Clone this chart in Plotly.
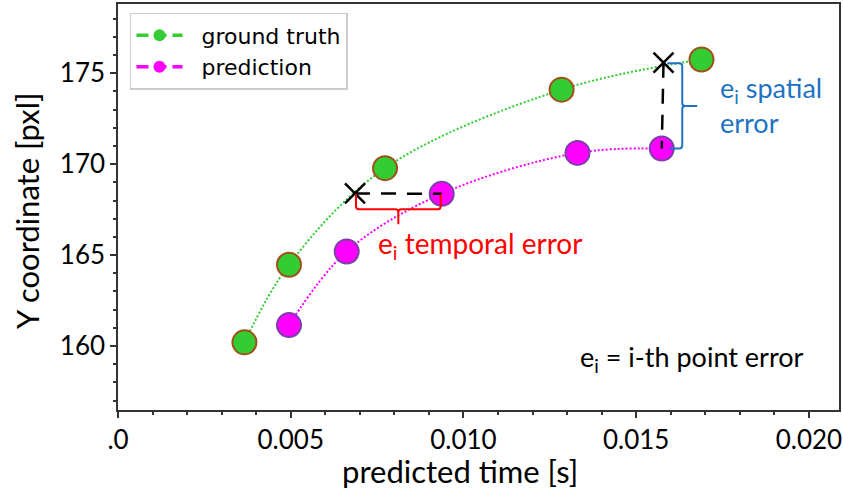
import plotly.graph_objects as go

# Measured trajectory samples: ground truth vs. prediction
gt_time = [0.00366, 0.00495, 0.00773, 0.01284, 0.01689]
gt_y = [160.2, 164.47, 169.78, 174.1, 175.76]

pred_time = [0.00495, 0.00662, 0.00937, 0.0133, 0.01574]
pred_y = [161.15, 165.2, 168.37, 170.62, 170.86]

# Points on the ground-truth curve used to illustrate the two error types
cross_time = [0.00686, 0.01579]
cross_y = [168.39, 175.58]

x_tickvals = [0.0, 0.005, 0.010, 0.015, 0.020]
x_ticktext = [".0", "0.005", "0.010", "0.015", "0.020"]
y_tickvals = [160, 165, 170, 175]

X_RANGE = [0.0, 0.02087]
Y_RANGE = [156.48, 178.81]

GREEN = "#33cc33"
GREEN_EDGE = "#a0501a"
MAGENTA = "#ff00ff"
MAGENTA_EDGE = "#7b3fa8"
BLUE = "#1f73c2"
LABEL_FONT = "Lato, 'Liberation Sans', sans-serif"

W, H = 843, 499
M = dict(l=118, r=3, t=2, b=89)
PW = W - M["l"] - M["r"]
PH = H - M["t"] - M["b"]

# pixel sizes expressed in axis units
dx_px = (X_RANGE[1] - X_RANGE[0]) / PW
dy_px = (Y_RANGE[1] - Y_RANGE[0]) / PH


def px_to_paper(px, py):
    return (px - M["l"]) / PW, (H - M["b"] - py) / PH


fig = go.Figure()

# dotted curves through each series
fig.add_trace(go.Scatter(x=gt_time, y=gt_y, mode="lines", line_shape="spline",
                         line=dict(color=GREEN, width=2, dash="2px,2px"),
                         showlegend=False, hoverinfo="skip"))
fig.add_trace(go.Scatter(x=pred_time, y=pred_y, mode="lines", line_shape="spline",
                         line=dict(color=MAGENTA, width=2, dash="2px,2px"),
                         showlegend=False, hoverinfo="skip"))

# sample markers
fig.add_trace(go.Scatter(x=gt_time, y=gt_y, mode="markers",
                         marker=dict(size=24, color=GREEN,
                                     line=dict(color=GREEN_EDGE, width=2)),
                         showlegend=False))
fig.add_trace(go.Scatter(x=pred_time, y=pred_y, mode="markers",
                         marker=dict(size=24, color=MAGENTA,
                                     line=dict(color=MAGENTA_EDGE, width=2)),
                         showlegend=False))

# legend entries (leading no-break space keeps a gap after the symbol)
fig.add_trace(go.Scatter(x=[None], y=[None], mode="lines+markers", name="\u00a0\u00a0ground truth",
                         line=dict(color=GREEN, width=3.5, dash="12px,6px"),
                         marker=dict(size=12, color=GREEN)))
fig.add_trace(go.Scatter(x=[None], y=[None], mode="lines+markers", name="\u00a0\u00a0prediction",
                         line=dict(color=MAGENTA, width=3.5, dash="12px,6px"),
                         marker=dict(size=12, color=MAGENTA)))

# temporal error: horizontal gap at equal Y
fig.add_trace(go.Scatter(x=[cross_time[0], pred_time[2]], y=[cross_y[0], pred_y[2]],
                         mode="lines", line=dict(color="black", width=2.5, dash="15px,11px"),
                         showlegend=False, hoverinfo="skip"))
# spatial error: vertical gap at equal time
fig.add_trace(go.Scatter(x=[cross_time[1], pred_time[4]], y=[cross_y[1], pred_y[4]],
                         mode="lines", line=dict(color="black", width=2.5, dash="15px,11px"),
                         showlegend=False, hoverinfo="skip"))
fig.add_trace(go.Scatter(x=cross_time, y=cross_y, mode="markers",
                         marker=dict(symbol="x-thin", size=20,
                                     line=dict(color="black", width=2.5)),
                         showlegend=False))

# red brace below the temporal gap
bx0, bx1 = cross_time[0] + 1 * dx_px, pred_time[2] - 1 * dx_px
by0 = pred_y[2] - 0.5 * dy_px
by1 = by0 - 15 * dy_px
bxm = (bx0 + bx1) / 2
r = 3
fig.add_shape(type="path", xref="x", yref="y",
              path=(f"M {bx0},{by0} L {bx0},{by1 + r * dy_px} "
                    f"Q {bx0},{by1} {bx0 + r * dx_px},{by1} "
                    f"L {bxm - r * dx_px},{by1} Q {bxm},{by1} {bxm},{by1 - r * dy_px} "
                    f"L {bxm},{by1 - 15 * dy_px} "
                    f"M {bxm},{by1 - r * dy_px} Q {bxm},{by1} {bxm + r * dx_px},{by1} "
                    f"L {bx1 - r * dx_px},{by1} Q {bx1},{by1} {bx1},{by1 + r * dy_px} "
                    f"L {bx1},{by0}"),
              line=dict(color="red", width=2))

# blue brace beside the spatial gap
cx = pred_time[4] + 20.5 * dx_px
cy0, cy1 = cross_y[1] - 0.5 * dy_px, pred_y[4]
cym = (cy0 + cy1) / 2
fig.add_shape(type="path", xref="x", yref="y",
              path=(f"M {cx - 15 * dx_px},{cy0} L {cx - r * dx_px},{cy0} "
                    f"Q {cx},{cy0} {cx},{cy0 - r * dy_px} "
                    f"L {cx},{cym + r * dy_px} Q {cx},{cym} {cx + r * dx_px},{cym} "
                    f"L {cx + 15 * dx_px},{cym} "
                    f"M {cx + r * dx_px},{cym} Q {cx},{cym} {cx},{cym - r * dy_px} "
                    f"L {cx},{cy1 + r * dy_px} Q {cx},{cy1} {cx - r * dx_px},{cy1} "
                    f"L {cx - 13 * dx_px},{cy1}"),
              line=dict(color=BLUE, width=2))

# text labels
ax, ay = px_to_paper(481, 244)
fig.add_annotation(x=ax, y=ay, xref="paper", yref="paper", showarrow=False,
                   text="e<sub>i</sub> temporal error", xanchor="center", yanchor="middle",
                   font=dict(family=LABEL_FONT, size=28, color="red"))
ax, ay = px_to_paper(719, 103)
fig.add_annotation(x=ax, y=ay, xref="paper", yref="paper", showarrow=False,
                   text="e<sub>i</sub> spatial<br>error", xanchor="left", yanchor="middle",
                   align="left", font=dict(family=LABEL_FONT, size=27, color=BLUE))
ax, ay = px_to_paper(579, 358)
fig.add_annotation(x=ax, y=ay, xref="paper", yref="paper", showarrow=False,
                   text="e<sub>i</sub> = i-th point error", xanchor="left", yanchor="middle",
                   font=dict(family=LABEL_FONT, size=27, color="black"))

# axis titles
ax, ay = px_to_paper(460, 471)
fig.add_annotation(x=ax, y=ay, xref="paper", yref="paper", showarrow=False,
                   text="predicted time [s]", xanchor="center", yanchor="middle",
                   font=dict(family=LABEL_FONT, size=31, color="black"))
ax, ay = px_to_paper(27, 210)
fig.add_annotation(x=ax, y=ay, xref="paper", yref="paper", showarrow=False,
                   text="Y coordinate [pxl]", textangle=-90, xanchor="center", yanchor="middle",
                   font=dict(family=LABEL_FONT, size=31, color="black"))

axis_common = dict(
    showline=True, linecolor="#333", linewidth=1.5, mirror=True,
    showgrid=False, zeroline=False,
    ticks="outside", ticklen=6, tickwidth=1.5, tickcolor="#333",
    tickfont=dict(family=LABEL_FONT, size=26, color="black"),
)

fig.update_xaxes(range=X_RANGE, tickmode="array", tickvals=x_tickvals, ticktext=x_ticktext,
                 minor=dict(dtick=0.001, ticks="outside", ticklen=3, tickcolor="#333"),
                 **axis_common)
fig.update_yaxes(range=Y_RANGE, tickmode="array", tickvals=y_tickvals,
                 minor=dict(dtick=1, ticks="outside", ticklen=3, tickcolor="#333"),
                 **axis_common)

lx, ly = px_to_paper(130, 11)
fig.update_layout(
    width=W, height=H, margin=M,
    paper_bgcolor="white", plot_bgcolor="white",
    legend=dict(x=lx, y=ly, xanchor="left", yanchor="top",
                bgcolor="white", bordercolor="#cccccc", borderwidth=1.5,
                font=dict(family="DejaVu Sans", size=22, color="black"),
                itemwidth=46, tracegroupgap=2),
)

fig.write_html("out.html")
